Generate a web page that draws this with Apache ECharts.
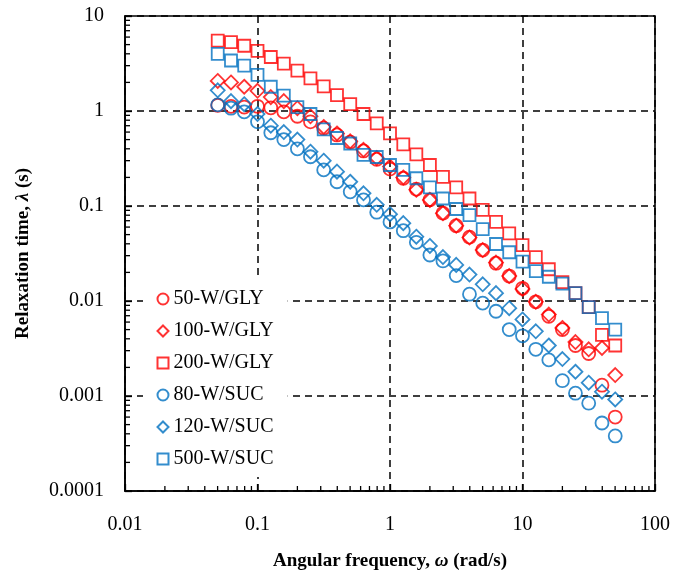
<!DOCTYPE html>
<html>
<head>
<meta charset="utf-8">
<script src="https://cdn.jsdelivr.net/npm/echarts@6/dist/echarts.min.js"></script>
<style>
html,body{margin:0;padding:0;background:#fff;}
#c{width:685px;height:575px;}
</style>
</head>
<body>
<div id="c"></div>
<script>
// Angular frequency (rad/s)
var freq = [0.0501,0.0631,0.0794,0.1,0.126,0.158,0.2,0.251,0.316,0.398,0.501,0.631,0.794,1,1.26,1.58,2,2.51,3.16,3.98,5.01,6.31,7.94,10,12.6,15.8,20,25.1,31.6,39.8,50.1];

// Relaxation time (s)
var gly50  = [1.15,1.12,1.10,1.12,1.08,0.98,0.88,0.77,0.66,0.56,0.47,0.38,0.31,0.245,0.196,0.15,0.116,0.084,0.062,0.047,0.0344,0.025,0.0183,0.0136,0.0098,0.0069,0.005,0.0034,0.0028,0.0013,0.0006];
var gly100 = [2.07,2.0,1.8,1.63,1.4,1.27,1.07,0.88,0.68,0.58,0.48,0.39,0.32,0.26,0.2,0.148,0.116,0.084,0.062,0.0465,0.0344,0.0254,0.0183,0.0134,0.0098,0.0072,0.0052,0.0037,0.0031,0.0032,0.00166];
var gly200 = [5.5,5.3,4.86,4.3,3.7,3.15,2.66,2.2,1.82,1.47,1.18,0.93,0.74,0.58,0.446,0.35,0.27,0.203,0.157,0.12,0.091,0.068,0.0516,0.0388,0.029,0.0216,0.0158,0.0121,0.0086,0.0044,0.0034];
var suc80  = [1.16,1.07,0.98,0.77,0.59,0.5,0.4,0.33,0.24,0.18,0.141,0.116,0.086,0.068,0.055,0.0415,0.0305,0.0264,0.0185,0.0118,0.0095,0.0078,0.005,0.0043,0.0031,0.0024,0.00145,0.00107,0.00084,0.00052,0.00038];
var suc120 = [1.65,1.27,1.18,0.93,0.7,0.6,0.5,0.373,0.3,0.23,0.18,0.136,0.103,0.082,0.066,0.0475,0.038,0.029,0.024,0.019,0.015,0.0121,0.0084,0.0064,0.0048,0.0034,0.00245,0.0018,0.00138,0.00111,0.00092];
var suc500 = [4.0,3.4,3.0,2.4,1.8,1.45,1.1,0.93,0.64,0.52,0.455,0.345,0.328,0.27,0.24,0.196,0.157,0.12,0.093,0.08,0.057,0.0398,0.0326,0.026,0.0206,0.018,0.0152,0.0121,0.0086,0.0066,0.005];

var seriesNames = ['50-W/GLY','100-W/GLY','200-W/GLY','80-W/SUC','120-W/SUC','500-W/SUC'];
var xTickLabels = ['0.01','0.1','1','10','100'];
var yTickLabels = ['0.0001','0.001','0.01','0.1','1','10'];

var RED = '#FF0000', BLUE = '#0070C0';
var FONT = '"Liberation Serif","Times New Roman",serif';

function pairs(ys){ return freq.map(function(x,i){ return [x, ys[i]]; }); }
function labelFor(list, v){
  var e = Math.round(Math.log10(v));
  for (var i=0;i<list.length;i++){ if (Math.round(Math.log10(parseFloat(list[i])))===e) return list[i]; }
  return '';
}

// minor tick positions (2..9 within each decade)
var minorX = [], minorY = [];
[0.01,0.1,1,10].forEach(function(d){ for(var m=2;m<=9;m++) minorX.push([+(d*m).toPrecision(3), 1e-4]); });
[1e-4,1e-3,1e-2,0.1,1].forEach(function(d){ for(var m=2;m<=9;m++) minorY.push([0.01, +(d*m).toPrecision(3)]); });

function mk(name, data, symbol, size, color){
  return {
    name:name, type:'scatter', data:pairs(data), symbol:symbol, symbolSize:size,
    itemStyle:{color:'none', borderColor:color, borderWidth:1.8},
    emphasis:{disabled:true}, z:3
  };
}

var chart = echarts.init(document.getElementById('c'), null, {renderer:'canvas'});
chart.setOption({
  animation:false,
  backgroundColor:'#fff',
  grid:{left:125, right:30, top:16, bottom:84, containLabel:false, outerBoundsMode:'none',
        show:true, borderColor:'#000', borderWidth:1.6, backgroundColor:'transparent'},
  legend:{
    data:seriesNames, orient:'vertical', left:143, top:279, padding:[10,14,8,12],
    backgroundColor:'#fff', z:6,
    itemWidth:11, itemHeight:11, itemGap:12,
    textStyle:{fontFamily:FONT, fontSize:20, color:'#000'},
    selectedMode:false
  },
  xAxis:{
    type:'log', logBase:10, min:0.01, max:100,
    name:'{b|Angular frequency, }{i|ω}{b| (rad/s)}', nameLocation:'middle', nameGap:61,
    nameTextStyle:{rich:{
      b:{fontFamily:FONT, fontSize:19, fontWeight:'bold', color:'#000'},
      i:{fontFamily:FONT, fontSize:19, fontWeight:'bold', fontStyle:'italic', color:'#000'}
    }},
    axisLine:{show:true, lineStyle:{color:'#000', width:1.6}},
    axisTick:{show:true, inside:true, length:7, lineStyle:{color:'#000', width:1.3}},
    axisLabel:{fontFamily:FONT, fontSize:20, color:'#000', margin:24,
      formatter:function(v){ return labelFor(xTickLabels, v); }},
    splitLine:{show:true, lineStyle:{color:'#000', width:1.5, type:[7,5]}}
  },
  yAxis:{
    type:'log', logBase:10, min:0.0001, max:10,
    name:'{b|Relaxation time, }{i|λ}{b| (s)}', nameLocation:'middle', nameGap:92,
    nameTextStyle:{rich:{
      b:{fontFamily:FONT, fontSize:19, fontWeight:'bold', color:'#000'},
      i:{fontFamily:FONT, fontSize:19, fontWeight:'bold', fontStyle:'italic', color:'#000'}
    }},
    axisLine:{show:true, lineStyle:{color:'#000', width:1.6}},
    axisTick:{show:true, inside:true, length:7, lineStyle:{color:'#000', width:1.3}},
    axisLabel:{fontFamily:FONT, fontSize:20, color:'#000', margin:21,
      formatter:function(v){ return labelFor(yTickLabels, v); }},
    splitLine:{show:true, lineStyle:{color:'#000', width:1.5, type:[7,5]}}
  },
  series:[
    mk(seriesNames[0], gly50, 'circle', 13, RED),
    mk(seriesNames[1], gly100, 'diamond', 14, RED),
    mk(seriesNames[2], gly200, 'rect', 12, RED),
    mk(seriesNames[3], suc80, 'circle', 13, BLUE),
    mk(seriesNames[4], suc120, 'diamond', 14, BLUE),
    mk(seriesNames[5], suc500, 'rect', 12, BLUE),
    {
      type:'custom', name:'minorX', data:minorX, silent:true, clip:false, z:5,
      renderItem:function(params, api){
        var p = api.coord([api.value(0), api.value(1)]);
        return {type:'line', shape:{x1:p[0], y1:p[1], x2:p[0], y2:p[1]-5}, style:{stroke:'#000', lineWidth:1.3}};
      }
    },
    {
      type:'custom', name:'minorY', data:minorY, silent:true, clip:false, z:5,
      renderItem:function(params, api){
        var p = api.coord([api.value(0), api.value(1)]);
        return {type:'line', shape:{x1:p[0], y1:p[1], x2:p[0]+5, y2:p[1]}, style:{stroke:'#000', lineWidth:1.3}};
      }
    }
  ]
});
</script>
</body>
</html>
